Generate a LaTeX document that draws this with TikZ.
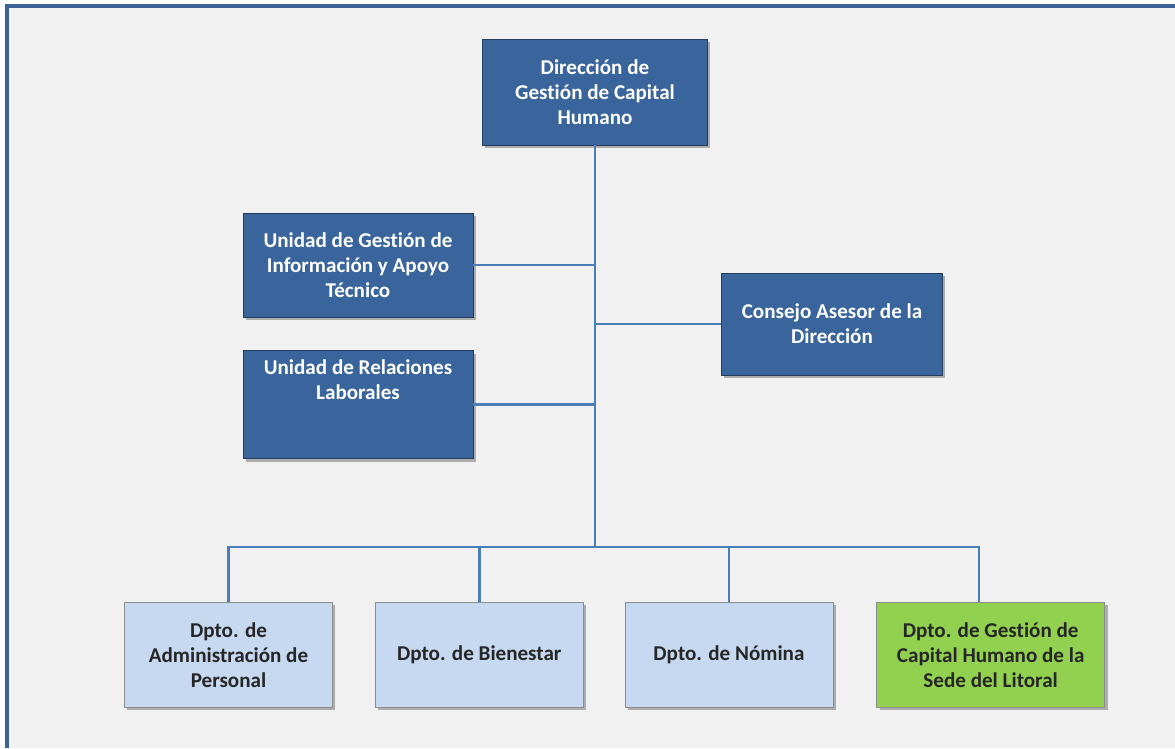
\documentclass[tikz,border=0pt]{standalone}
\usepackage{fontspec}
\setmainfont{Carlito}[Ligatures={NoCommon,NoRequired,NoContextual}]
\usetikzlibrary{positioning,shadows}

\definecolor{dirblue}{RGB}{57,101,156}
\definecolor{dptoblue}{RGB}{198,217,241}
\definecolor{sedegreen}{RGB}{146,208,80}
\definecolor{linkblue}{RGB}{74,126,187}
\definecolor{framegray}{RGB}{241,241,241}
\definecolor{frameblue}{RGB}{63,98,150}

\begin{document}
\begin{tikzpicture}[
    x=0.03cm, y=-0.03cm,
    box/.style={line width=0.6pt, align=center, inner sep=2pt, font=\bfseries\fontsize{18}{21.5}\selectfont, drop shadow={opacity=0.6, shadow xshift=2.5pt, shadow yshift=-2.5pt}},
    dirbox/.style={box, draw=dirblue!60!black, fill=dirblue, text=white},
    dptobox/.style={box, draw=black!45, fill=dptoblue, text=black!85, minimum width=6.24cm, minimum height=3.15cm},
    sedebox/.style={dptobox, fill=sedegreen, minimum width=6.84cm},
    link/.style={draw=linkblue, line width=2.2pt}
]
\useasboundingbox (0,0) rectangle (1175,748);
\fill[white] (0,0) rectangle (1175,748);
\fill[framegray] (7,6) rectangle (1175,748);
\draw[frameblue, line width=3.4pt] (1175,6) -- (7,6) -- (7,748);

\node[dirbox, minimum width=6.75cm, minimum height=3.18cm] (dgch) at (595,92) {Dirección de\\Gestión de Capital\\Humano};
\node[dirbox, minimum width=6.9cm, minimum height=3.12cm] (ugiat) at (358,265) {Unidad de Gestión de\\Información y Apoyo\\Técnico};
\node[dirbox, minimum width=6.9cm, minimum height=3.24cm, text depth=1.5cm, below=0.99cm of ugiat] (urel) {Unidad de Relaciones\\Laborales};
\node[dirbox, minimum width=6.63cm, minimum height=3.06cm] (cad) at (832,324) {Consejo Asesor de la\\Dirección};

\node[dptobox] (dap) at (228.5,655) {Dpto. de\\Administración de\\Personal};
\node[dptobox, right=1.26cm of dap] (dbi) {Dpto. de Bienestar};
\node[dptobox, right=1.23cm of dbi] (dno) {Dpto. de Nómina};
\node[sedebox, right=1.29cm of dno] (dsl) {Dpto. de Gestión de\\Capital Humano de la\\Sede del Litoral};

\coordinate (bus) at (dgch.south |- 0,547);
\coordinate (sededrop) at (979,547);

\draw[link] (dgch.south) -- (bus);
\draw[link] (ugiat.east) -- (ugiat.east -| bus);
\draw[link] (urel.east) -- (urel.east -| bus);
\draw[link] (cad.west) -- (cad.west -| bus);
\draw[link] (dap.north) |- (bus) -- (sededrop) -- (sededrop |- dsl.north);
\draw[link] (dbi.north) -- (dbi.north |- bus);
\draw[link] (dno.north) -- (dno.north |- bus);
\end{tikzpicture}
\end{document}
